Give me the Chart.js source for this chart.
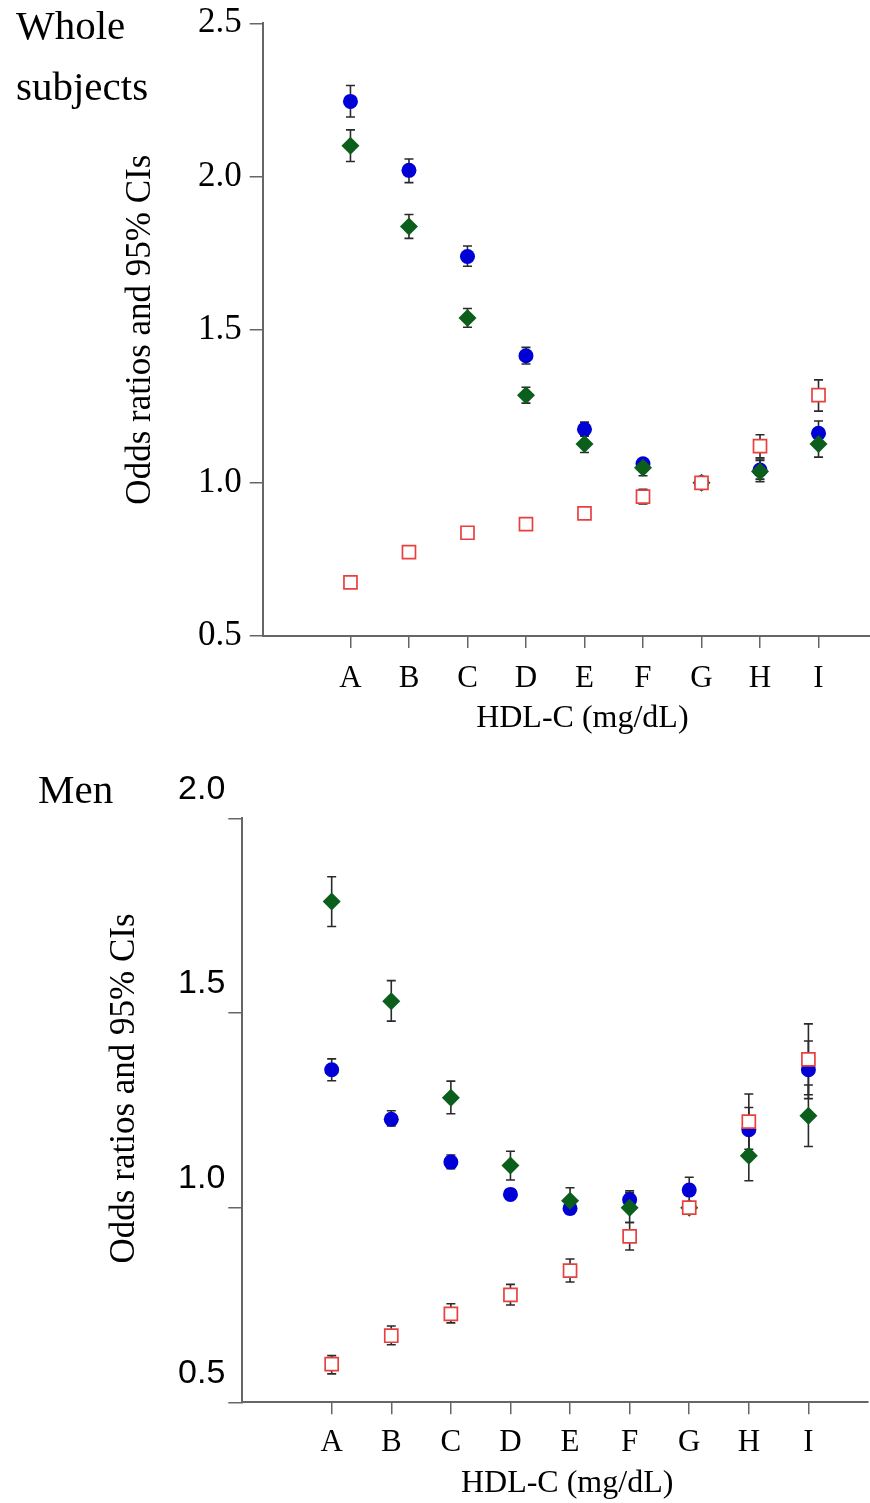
<!DOCTYPE html>
<html>
<head>
<meta charset="utf-8">
<script src="https://cdn.jsdelivr.net/npm/chart.js@4.4.1/dist/chart.umd.min.js"></script>
<style>
  body { margin: 0; background: #fff; width: 870px; height: 1503px; position: relative; overflow: hidden; }
  .panel { position: absolute; left: 0; width: 870px; }
  .lbl { position: absolute; font: 41px/61px "Liberation Serif", serif; color: #000; }
</style>
</head>
<body>
<div class="panel" style="top:0;height:750px"><canvas id="whole"></canvas></div>
<div class="panel" style="top:750px;height:753px"><canvas id="men"></canvas></div>
<div class="lbl" style="left:16px;top:-5px">Whole<br>subjects</div>
<div class="lbl" style="left:38px;top:759px">Men</div>
<script>
/* data */
const categories = ['A', 'B', 'C', 'D', 'E', 'F', 'G', 'H', 'I'];
const wholeTicks = [0.5, 1.0, 1.5, 2.0, 2.5];
const menTicks = [0.5, 1.0, 1.5, 2.0];

const wholeBlue   = [2.245, 2.020, 1.739, 1.415, 1.175, 1.062, 1.0, 1.042, 1.162];
const wholeBlueLo = [2.194, 1.980, 1.707, 1.388, 1.152, 1.047, 1.0, 1.012, 1.122];
const wholeBlueHi = [2.297, 2.057, 1.773, 1.442, 1.198, 1.077, 1.0, 1.078, 1.202];
const wholeGreen   = [2.100, 1.837, 1.538, 1.286, 1.127, 1.049, 1.0, 1.037, 1.127];
const wholeGreenLo = [2.049, 1.798, 1.508, 1.260, 1.099, 1.023, 1.0, 1.004, 1.084];
const wholeGreenHi = [2.152, 1.876, 1.569, 1.312, 1.155, 1.075, 1.0, 1.073, 1.170];
const wholeRed   = [0.675, 0.774, 0.837, 0.865, 0.900, 0.955, 1.0, 1.120, 1.286];
const wholeRedLo = [0.665, 0.765, 0.828, 0.856, 0.890, 0.931, 1.0, 1.082, 1.234];
const wholeRedHi = [0.685, 0.783, 0.846, 0.874, 0.910, 0.979, 1.0, 1.157, 1.336];

const menBlue   = [1.354, 1.227, 1.117, 1.034, 0.998, 1.020, 1.045, 1.200, 1.354];
const menBlueLo = [1.326, 1.210, 1.100, 1.022, 0.984, 0.997, 1.012, 1.143, 1.280];
const menBlueHi = [1.382, 1.249, 1.135, 1.047, 1.012, 1.043, 1.078, 1.257, 1.428];
const menGreen   = [1.786, 1.530, 1.282, 1.108, 1.018, 1.000, 1.0, 1.133, 1.236];
const menGreenLo = [1.722, 1.479, 1.241, 1.071, 0.985, 0.962, 1.0, 1.069, 1.157];
const menGreenHi = [1.850, 1.583, 1.325, 1.145, 1.051, 1.038, 1.0, 1.197, 1.315];
const menRed   = [0.598, 0.671, 0.727, 0.776, 0.838, 0.926, 1.0, 1.221, 1.381];
const menRedLo = [0.573, 0.648, 0.704, 0.750, 0.809, 0.891, 1.0, 1.150, 1.290];
const menRedHi = [0.620, 0.696, 0.753, 0.803, 0.868, 0.962, 1.0, 1.292, 1.472];

const SERIF = '"Liberation Serif", "Times New Roman", serif';
const SANS = '"Liberation Sans", Arial, sans-serif';
const AXIS = '#666';

/* vertical CI whiskers, drawn under the markers */
const errorBars = {
  id: 'errorBars',
  beforeDatasetsDraw(chart) {
    const { ctx } = chart;
    const y = chart.scales.y;
    ctx.save();
    ctx.strokeStyle = '#2a2a2a';
    ctx.lineWidth = 1.6;
    chart.data.datasets.forEach((ds, i) => {
      chart.getDatasetMeta(i).data.forEach((pt, j) => {
        const lo = ds.lo[j], hi = ds.hi[j];
        if (lo === hi) return;
        const y1 = y.getPixelForValue(lo), y2 = y.getPixelForValue(hi);
        ctx.beginPath();
        ctx.moveTo(pt.x, y1); ctx.lineTo(pt.x, y2);
        ctx.moveTo(pt.x - 4.5, y1); ctx.lineTo(pt.x + 4.5, y1);
        ctx.moveTo(pt.x - 4.5, y2); ctx.lineTo(pt.x + 4.5, y2);
        ctx.stroke();
      });
    });
    ctx.restore();
  }
};

function series(vals, lo, hi, style) {
  return { data: vals.map((v, i) => ({ x: i + 1, y: v })), lo, hi, ...style };
}

function oddsChart(id, o) {
  new Chart(document.getElementById(id), {
    type: 'scatter',
    data: { datasets: [
      series(o.red, o.redLo, o.redHi, { pointStyle: 'rect', pointRadius: 9.2, backgroundColor: '#fff', borderColor: '#e8403f', borderWidth: 1.7 }),
      series(o.green, o.greenLo, o.greenHi, { pointStyle: 'rectRot', pointRadius: 9, backgroundColor: '#0b5e1c', borderWidth: 0 }),
      series(o.blue, o.blueLo, o.blueHi, { pointStyle: 'circle', pointRadius: 7.5, backgroundColor: '#0000d6', borderWidth: 0 })
    ]},
    options: {
      responsive: true, maintainAspectRatio: false, animation: false, events: [],
      layout: { autoPadding: false, padding: { top: o.padTop, right: o.padRight, bottom: 0, left: 0 } },
      plugins: { legend: { display: false }, tooltip: { enabled: false } },
      scales: {
        x: {
          type: 'linear', min: -0.5, max: o.xMax,
          afterBuildTicks: s => { s.ticks = categories.map((c, i) => ({ value: i + 1 })); },
          afterFit: s => { s.height = o.xH; s.paddingLeft = 0; s.paddingRight = 0; },
          ticks: { callback: v => categories[v - 1], color: '#000', padding: o.xPad, font: { family: SERIF, size: 31 } },
          grid: { drawOnChartArea: false, tickLength: 12, color: AXIS, lineWidth: 1.5 },
          border: { color: AXIS, width: 2 },
          title: { display: true, text: o.xTitle, color: '#000', font: { family: SERIF, size: 32 }, padding: { top: 0, bottom: o.xTitlePad } }
        },
        y: {
          min: o.yTicks[0], max: o.yTicks[o.yTicks.length - 1],
          afterBuildTicks: s => { s.ticks = o.yTicks.map(v => ({ value: v })); },
          afterFit: s => { s.width = o.yW; s.paddingTop = 0; s.paddingBottom = 0; },
          ticks: { callback: v => v.toFixed(1), color: '#000', padding: o.yPad, labelOffset: o.yLabelOffset, font: { family: o.yFont, size: o.yFontSize } },
          grid: { drawOnChartArea: false, tickLength: o.yTick, color: AXIS, lineWidth: 1.5 },
          border: { color: AXIS, width: 2 },
          title: { display: true, text: o.yTitle, color: '#000', font: { family: SERIF, size: 35 }, padding: { top: o.yTitlePad, bottom: 0 } }
        }
      }
    },
    plugins: [errorBars]
  });
}

oddsChart('whole', {
  blue: wholeBlue, blueLo: wholeBlueLo, blueHi: wholeBlueHi,
  green: wholeGreen, greenLo: wholeGreenLo, greenHi: wholeGreenHi,
  red: wholeRed, redLo: wholeRedLo, redHi: wholeRedHi,
  yTicks: wholeTicks, padTop: 23.3, padRight: 0, xMax: 9.88, xH: 114, yW: 262.7,
  xPad: 12, xTitlePad: 12, yPad: 8, yTick: 13, yLabelOffset: 0, yFont: SERIF, yFontSize: 35,
  xTitle: '\u2003HDL-C (mg/dL)', yTitle: 'Odds ratios and 95% CIs', yTitlePad: 120
});

oddsChart('men', {
  blue: menBlue, blueLo: menBlueLo, blueHi: menBlueHi,
  green: menGreen, greenLo: menGreenLo, greenHi: menGreenHi,
  red: menRed, redLo: menRedLo, redHi: menRedHi,
  yTicks: menTicks, padTop: 68.3, padRight: 2, xMax: 10, xH: 100.7, yW: 242.3,
  xPad: 10, xTitlePad: 0, yPad: 3, yTick: 14, yLabelOffset: -29, yFont: SANS, yFontSize: 34,
  xTitle: '\u2002 HDL-C (mg/dL)', yTitle: '\u2003 Odds ratios and 95% CIs', yTitlePad: 104
});
</script>
</body>
</html>
